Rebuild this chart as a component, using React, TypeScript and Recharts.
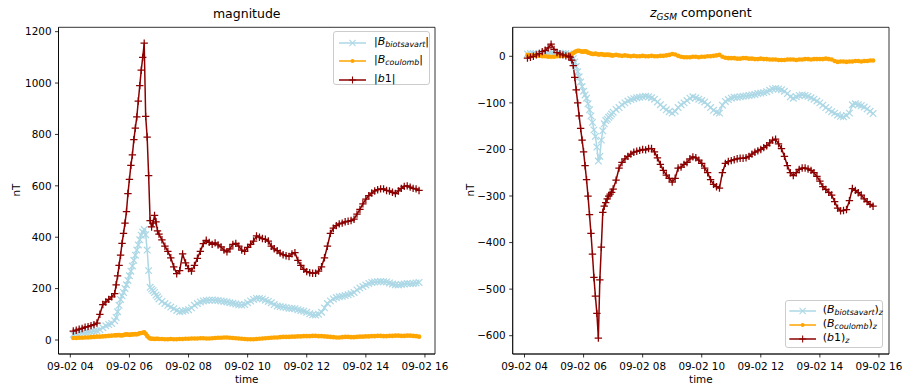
import React from "react"
import { LineChart, Line, XAxis, YAxis, ReferenceArea } from "recharts"

// hours since 09-02 00:00 (denser sampling around the storm onset)
const times = [
  4.1, 4.2, 4.3, 4.4, 4.5, 4.6, 4.7, 4.8, 4.9, 5.0, 5.1, 5.2, 5.3, 5.4, 5.5,
  5.55, 5.6, 5.65, 5.7, 5.75, 5.8, 5.85, 5.9, 5.95, 6.0, 6.05, 6.1, 6.15, 6.2, 6.25,
  6.3, 6.35, 6.4, 6.45, 6.5, 6.55, 6.6, 6.65, 6.7, 6.75, 6.8, 6.85, 6.9, 6.95,
  7.0, 7.1, 7.2, 7.3, 7.4, 7.5, 7.6, 7.7, 7.8, 7.9,
  8.0, 8.1, 8.2, 8.3, 8.4, 8.5, 8.6, 8.7, 8.8, 8.9,
  9.0, 9.1, 9.2, 9.3, 9.4, 9.5, 9.6, 9.7, 9.8, 9.9,
  10.0, 10.1, 10.2, 10.3, 10.4, 10.5, 10.6, 10.7, 10.8, 10.9,
  11.0, 11.1, 11.2, 11.3, 11.4, 11.5, 11.6, 11.7, 11.8, 11.9,
  12.0, 12.1, 12.2, 12.3, 12.4, 12.5, 12.6, 12.7, 12.8, 12.9,
  13.0, 13.1, 13.2, 13.3, 13.4, 13.5, 13.6, 13.7, 13.8, 13.9,
  14.0, 14.1, 14.2, 14.3, 14.4, 14.5, 14.6, 14.7, 14.8, 14.9,
  15.0, 15.1, 15.2, 15.3, 15.4, 15.5, 15.6, 15.7, 15.8,
]

// magnitude panel
const bsMag = [
  22, 24, 26, 28, 29, 30, 32, 34, 36, 40, 48, 55, 60, 64, 75,
  88, 110, 135, 158, 172, 185, 200, 215, 232, 250, 268, 288, 310, 330, 350,
  370, 390, 408, 420, 430, 410, 350, 270, 205, 198, 192, 185, 175, 168,
  160, 150, 142, 135, 128, 122, 115, 110, 112, 115,
  118, 125, 135, 142, 148, 152, 154, 155, 156, 155,
  154, 152, 150, 148, 145, 143, 140, 137, 136, 138,
  145, 152, 158, 162, 162, 160, 155, 150, 145, 138,
  132, 130, 128, 126, 124, 123, 122, 118, 115, 112,
  108, 102, 98, 97, 100, 108, 125, 142, 152, 160,
  165, 168, 170, 173, 176, 180, 185, 195, 202, 208,
  214, 220, 224, 226, 227, 228, 227, 226, 222, 218,
  215, 214, 216, 218, 220, 219, 220, 222, 224,
]
const cMag = [
  8, 8, 9, 9, 10, 10, 11, 12, 13, 13, 14, 15, 16, 17, 18,
  18, 19, 19, 18, 18, 19, 21, 22, 21, 20, 21, 22, 22, 23, 22,
  24, 26, 27, 28, 30, 24, 16, 10, 6, 5, 5, 4, 5, 5,
  4, 4, 3, 3, 4, 3, 3, 4, 4, 5,
  5, 6, 6, 6, 7, 7, 6, 6, 7, 8,
  9, 9, 10, 10, 9, 8, 7, 6, 5, 4,
  3, 3, 3, 4, 5, 6, 7, 8, 9, 10,
  10, 11, 12, 12, 12, 13, 13, 14, 14, 15,
  15, 15, 16, 16, 15, 15, 14, 13, 12, 11,
  10, 10, 11, 12, 12, 11, 11, 12, 13, 13,
  14, 14, 15, 15, 16, 16, 15, 15, 16, 16,
  17, 17, 16, 16, 17, 17, 16, 15, 13,
]
const bMag = [
  35, 38, 42, 45, 50, 52, 56, 60, 66, 100, 138, 148, 158, 168, 180,
  215, 250, 290, 330, 376, 415, 455, 500, 570, 625, 680, 720, 780, 825, 868,
  930, 990, 1050, 1100, 1155, 870, 790, 640, 465, 440, 455, 485, 460, 425,
  412, 390, 365, 345, 320, 285, 258, 270, 335, 300,
  278, 268, 290, 318, 345, 375, 388, 380, 372, 378,
  370, 362, 350, 343, 355, 372, 376, 365, 350, 345,
  360, 372, 385, 405, 400, 395, 392, 385, 365, 355,
  348, 338, 332, 328, 325, 335, 340, 310, 290, 275,
  266, 262, 260, 260, 268, 285, 320, 365, 415, 435,
  445, 452, 455, 460, 462, 465, 470, 490, 508, 530,
  548, 562, 572, 580, 585, 588, 588, 582, 580, 575,
  570, 580, 590, 598, 600, 595, 590, 588, 582,
]

// z_GSM panel
const bsZ = [
  5, 6, 6, 5, 6, 7, 6, 6, 7, 6, 6, 7, 6, 6, 5,
  3, 0, -5, -12, -22, -33, -44, -55, -65, -75, -83, -90, -102, -115, -128,
  -142, -158, -172, -195, -225, -215, -180, -160, -145, -138, -135, -131, -128, -124,
  -120, -114, -110, -104, -100, -96, -93, -91, -89, -88,
  -87, -86, -87, -89, -92, -98, -104, -110, -115, -119,
  -122, -118, -110, -104, -100, -95, -90, -87, -89, -92,
  -95, -98, -104, -110, -116, -120, -122, -105, -97, -93,
  -90, -88, -88, -87, -86, -85, -84, -83, -82, -80,
  -79, -78, -76, -73, -70, -69, -70, -72, -75, -80,
  -87, -90, -87, -84, -83, -84, -86, -89, -92, -96,
  -100, -105, -110, -115, -119, -122, -126, -129, -130, -127,
  -122, -104, -102, -104, -106, -109, -113, -118, -123,
]
const cZ = [
  3, 2, 2, 1, 1, 0, 0, -1, -1, -1, 0, 0, 1, 1, 2,
  3, 5, 7, 9, 11, 12, 12, 11, 10, 10, 11, 10, 8, 7, 6,
  5, 5, 6, 5, 4, 4, 5, 4, 3, 3, 4, 3, 3, 2,
  2, 3, 2, 1, 2, 1, 0, 1, 0, 0,
  1, 0, 0, 1, 0, 0, 1, 1, 2, 3,
  5, 4, 1, -1, -2, -2, -2, -1, -1, -2,
  -1, -1, 0, 0, 1, 2, 3, -1, -3, -4,
  -4, -4, -5, -5, -4, -4, -5, -5, -6, -6,
  -5, -6, -6, -7, -7, -7, -8, -8, -8, -7,
  -7, -7, -8, -7, -7, -6, -6, -7, -6, -6,
  -6, -6, -5, -6, -7, -10, -12, -11, -11, -12,
  -11, -11, -10, -10, -11, -10, -10, -9, -9,
]
const bZ = [
  -4, -2, 0, 3, 6, 10, 13, 18, 26, 15, 8, 5, 3, 1, 0,
  -2, -8, -20, -45, -72, -100, -128, -155, -180, -205, -235, -265, -300, -340, -380,
  -425, -475, -515, -552, -605, -480, -410, -335, -322, -314, -306, -300, -296, -292,
  -285, -266, -240, -228, -220, -215, -210, -206, -204, -202,
  -200, -201, -198, -198, -205, -218, -232, -245, -255, -262,
  -270, -262, -240, -238, -232, -228, -220, -216, -218, -223,
  -230, -240, -250, -265, -275, -280, -283, -250, -230, -226,
  -224, -222, -220, -219, -219, -218, -215, -210, -206, -203,
  -200, -196, -192, -186, -180, -178, -188, -198, -215, -235,
  -250, -256, -250, -243, -240, -240, -242, -245, -250, -258,
  -268, -280, -286, -292, -298, -312, -326, -332, -331, -329,
  -310, -284, -288, -293, -298, -306, -312, -318, -322,
]

const hourTicks = [4, 6, 8, 10, 12, 14, 16]
const magTicks = [0, 200, 400, 600, 800, 1000, 1200]
const zTicks = [-600, -500, -400, -300, -200, -100, 0]

const LIGHT = "#add8e6"
const ORANGE = "#ffa500"
const RED = "#8b0000"
const FONT = "'DejaVu Sans', sans-serif"
const FS = 10.4

const magData = times.map((t, i) => ({ t, bs: bsMag[i], c: cMag[i], b: bMag[i] }))
const zData = times.map((t, i) => ({ t, bs: bsZ[i], c: cZ[i], b: bZ[i] }))

const markerPath = (kind: string, cx: number, cy: number, s: number) =>
  kind === "x"
    ? `M${cx - s},${cy - s}L${cx + s},${cy + s}M${cx - s},${cy + s}L${cx + s},${cy - s}`
    : `M${cx - s - 0.4},${cy}L${cx + s + 0.4},${cy}M${cx},${cy - s - 0.4}L${cx},${cy + s + 0.4}`

// markers in the plot are a bit heavier so the dense series read as a band
const makeDot = (kind: string, color: string) => (props: any) => {
  const { cx, cy, index } = props
  if (cx == null || cy == null) return <g key={`n${index}`} />
  if (kind === ".") return <circle key={`d${index}`} cx={cx} cy={cy} r={2.3} fill={color} stroke="none" />
  return <path key={`d${index}`} d={markerPath(kind, cx, cy, 3.3)} stroke={color} strokeWidth={1.25} fill="none" />
}

const pad = (n: number) => (n < 10 ? `0${n}` : `${n}`)
const XTick = (props: any) => {
  const { x, y, payload } = props
  return (
    <text x={x} y={y} dy={12.5} textAnchor="middle" fontSize={FS} fontFamily={FONT} fill="#000">
      {`09-02 ${pad(payload.value)}`}
    </text>
  )
}
const YTick = (props: any) => {
  const { x, y, payload } = props
  const v = payload.value
  return (
    <text x={x} y={y} dy={3.7} textAnchor="end" fontSize={FS} fontFamily={FONT} fill="#000">
      {v < 0 ? `\u2212${-v}` : `${v}`}
    </text>
  )
}

const Sub = ({ children }: any) => (
  <span style={{ fontSize: "0.72em", fontStyle: "italic", position: "relative", top: "0.28em" }}>{children}</span>
)

type Row = { kind: string; color: string; y: number; label: any }

function LegendBox({ left, top, width, height, lineX0, lineX1, textX, rows }: any) {
  return (
    <div
      style={{
        position: "absolute", left, top, width, height, boxSizing: "border-box",
        border: "1px solid #cccccc", borderRadius: 3, background: "rgba(255,255,255,0.8)",
        fontFamily: FONT, fontSize: 11, color: "#000",
      }}
    >
      {rows.map((r: Row, i: number) => (
        <React.Fragment key={i}>
          <svg style={{ position: "absolute", left: 0, top: r.y - 7 }} width={lineX1 + 4} height={14}>
            <line x1={lineX0} x2={lineX1} y1={7} y2={7} stroke={r.color} strokeWidth={1.5} />
            {r.kind === "." ? (
              <circle cx={(lineX0 + lineX1) / 2} cy={7} r={2} fill={r.color} />
            ) : (
              <path d={markerPath(r.kind, (lineX0 + lineX1) / 2, 7, 3.1)} stroke={r.color} strokeWidth={1.05} fill="none" />
            )}
          </svg>
          <div style={{ position: "absolute", left: textX, top: r.y - 8, lineHeight: "14px", whiteSpace: "nowrap" }}>
            {r.label}
          </div>
        </React.Fragment>
      ))}
    </div>
  )
}

function Panel({ data, left, width, yAxisW, rightM, yDomain, yTicks }: any) {
  const xDomain = [3.6, 16.34]
  return (
    <div style={{ position: "absolute", left, top: 0 }}>
      <LineChart width={width} height={390} data={data} margin={{ top: 27.3, right: rightM, bottom: 0, left: 0 }}>
        <XAxis
          type="number" dataKey="t" domain={xDomain} ticks={hourTicks} allowDataOverflow
          height={36} tickSize={3.5} tickMargin={0} tick={<XTick />}
          tickLine={{ stroke: "#000", strokeWidth: 0.8 }} axisLine={{ stroke: "#000", strokeWidth: 0.8 }}
        />
        <YAxis
          type="number" domain={yDomain} ticks={yTicks} allowDataOverflow
          width={yAxisW} tickSize={3.5} tickMargin={3.5} tick={<YTick />}
          tickLine={{ stroke: "#000", strokeWidth: 0.8 }} axisLine={{ stroke: "#000", strokeWidth: 0.8 }}
        />
        <ReferenceArea x1={xDomain[0]} x2={xDomain[1]} y1={yDomain[0]} y2={yDomain[1]} fill="none" stroke="#000" strokeWidth={0.8} />
        <Line type="linear" dataKey="bs" stroke={LIGHT} strokeWidth={1.5} dot={makeDot("x", LIGHT)} activeDot={false} isAnimationActive={false} />
        <Line type="linear" dataKey="c" stroke={ORANGE} strokeWidth={1.5} dot={makeDot(".", ORANGE)} activeDot={false} isAnimationActive={false} />
        <Line type="linear" dataKey="b" stroke={RED} strokeWidth={1.5} dot={makeDot("+", RED)} activeDot={false} isAnimationActive={false} />
      </LineChart>
    </div>
  )
}

const textAbs = (extra: any): any => ({
  position: "absolute", fontFamily: FONT, color: "#000", whiteSpace: "nowrap", ...extra,
})

export default function App() {
  const magRows: Row[] = [
    { kind: "x", color: LIGHT, y: 11, label: <>|<i>B</i><Sub>biotsavart</Sub>|</> },
    { kind: ".", color: ORANGE, y: 29, label: <>|<i>B</i><Sub>coulomb</Sub>|</> },
    { kind: "+", color: RED, y: 48, label: <>|<i>b</i>1|</> },
  ]
  const zRows: Row[] = [
    { kind: "x", color: LIGHT, y: 10, label: <>(<i>B</i><Sub>biotsavart</Sub>)<Sub>z</Sub></> },
    { kind: ".", color: ORANGE, y: 23.5, label: <>(<i>B</i><Sub>coulomb</Sub>)<Sub>z</Sub></> },
    { kind: "+", color: RED, y: 37.5, label: <>(<i>b</i>1)<Sub>z</Sub></> },
  ]
  return (
    <div style={{ position: "absolute", left: 0, top: 0, width: 905, height: 390, background: "#fff", overflow: "hidden" }}>
      <Panel data={magData} left={0} width={450} yAxisW={58.5} rightM={15} yDomain={[-54.5, 1217]} yTicks={magTicks} />
      <Panel data={zData} left={452} width={453} yAxisW={60.7} rightM={16} yDomain={[-639.3, 62.3]} yTicks={zTicks} />

      <div style={textAbs({ left: 58.5, width: 376.5, top: 6, textAlign: "center", fontSize: 12.5 })}>magnitude</div>
      <div style={textAbs({ left: 512.7, width: 376.3, top: 5, textAlign: "center", fontSize: 12.5 })}>
        <i>z</i><Sub>GSM</Sub> component
      </div>

      <div style={textAbs({ left: 58.5, width: 376.5, top: 373, textAlign: "center", fontSize: FS })}>time</div>
      <div style={textAbs({ left: 512.7, width: 376.3, top: 373, textAlign: "center", fontSize: FS })}>time</div>

      <div style={textAbs({ left: 4, top: 184, width: 24, textAlign: "center", fontSize: FS, transform: "rotate(-90deg)" })}>nT</div>
      <div style={textAbs({ left: 458, top: 184, width: 24, textAlign: "center", fontSize: FS, transform: "rotate(-90deg)" })}>nT</div>

      <LegendBox left={333} top={31} width={97} height={54} lineX0={5} lineX1={32} textX={40} rows={magRows} />
      <LegendBox left={785} top={300} width={98} height={48} lineX0={3.3} lineX1={30} textX={36.7} rows={zRows} />
    </div>
  )
}
